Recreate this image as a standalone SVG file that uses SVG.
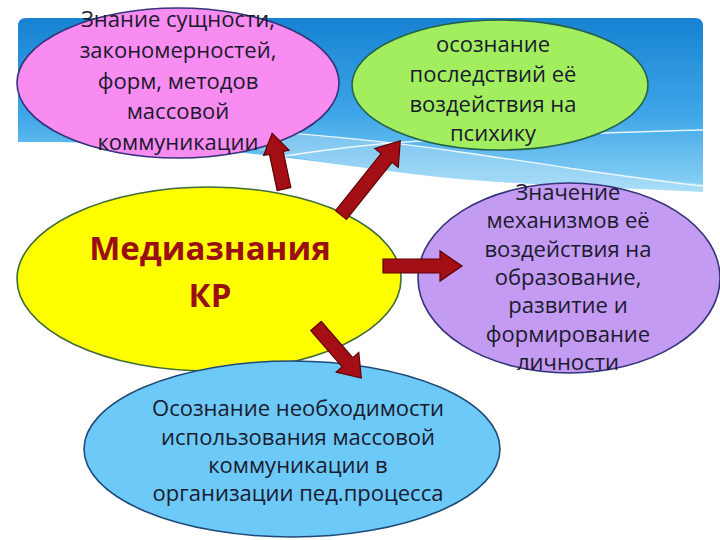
<svg xmlns="http://www.w3.org/2000/svg" width="720" height="540" viewBox="0 0 720 540">
  <defs>
    <linearGradient id="sky" x1="0" y1="18" x2="0" y2="192" gradientUnits="userSpaceOnUse">
      <stop offset="0" stop-color="#1682d2"/>
      <stop offset="0.55" stop-color="#3ea6e8"/>
      <stop offset="1" stop-color="#8ed3f5"/>
    </linearGradient>
  </defs>
  <style>
    .node ellipse { stroke-width: 1.6; }
    .lbl { font-family: "Open Sans", "Noto Sans", "DejaVu Sans", sans-serif; font-size: 22px; fill: #1a1a2e; text-anchor: middle; }
    .big { font-family: "Open Sans", "Noto Sans", "DejaVu Sans", sans-serif; font-size: 33px; font-weight: bold; fill: #9a0f12; text-anchor: middle; }
    .arrow { fill: #a30f14; stroke: #5e0000; stroke-width: 1.2; stroke-linejoin: miter; }
    .wave { fill: none; stroke: #ffffff; stroke-width: 1.3; opacity: 0.85; }
  </style>

  <rect width="720" height="540" fill="#ffffff"/>

  <!-- background sky band -->
  <g id="background">
    <path d="M18,26 Q18,18 26,18 H695 Q703,18 703,26 V192 C640,188 520,186 430,176 C330,165 200,140 18,142 Z" fill="url(#sky)"/>
    <path d="M180,126 C300,132 380,140 460,152 C560,166 640,178 703,184 V192 C640,188 520,186 430,176 C330,165 230,150 180,126 Z" fill="#ffffff" opacity="0.25"/>
    <path class="wave" d="M185,126 C290,132 380,140 460,152 C560,166 640,180 703,186"/>
    <path class="wave" d="M260,160 C320,150 370,144 420,141 C520,136 620,132 703,130"/>
  </g>

  <g id="node-pink" class="node">
    <ellipse cx="178" cy="83" rx="161" ry="75" fill="#f98cf0" stroke="#34347a"/>
    <text class="lbl" x="178" y="27" font-size="22.5">Знание сущности,</text>
    <text class="lbl" x="178" y="58" font-size="22.5">закономерностей,</text>
    <text class="lbl" x="178" y="89" font-size="22.5">форм, методов</text>
    <text class="lbl" x="178" y="119" font-size="22.5">массовой</text>
    <text class="lbl" x="178" y="150" font-size="22.5">коммуникации</text>
  </g>

  <g id="node-green" class="node">
    <ellipse cx="500" cy="85" rx="148" ry="65" fill="#a2ee5e" stroke="#23624a"/>
    <text class="lbl" x="493" y="52">осознание</text>
    <text class="lbl" x="493" y="82">последствий её</text>
    <text class="lbl" x="493" y="112">воздействия на</text>
    <text class="lbl" x="493" y="141">психику</text>
  </g>

  <g id="node-yellow" class="node">
    <ellipse cx="209" cy="279" rx="192" ry="92" fill="#ffff00" stroke="#3f6a3a"/>
    <text class="big" x="210" y="260">Медиазнания</text>
    <text class="big" x="210" y="307">КР</text>
  </g>

  <g id="node-purple" class="node">
    <ellipse cx="569" cy="278" rx="151" ry="95" fill="#c49bf2" stroke="#34347a"/>
    <text class="lbl" x="568" y="200" font-size="20.5">Значение</text>
    <text class="lbl" x="568" y="228" font-size="20.5">механизмов её</text>
    <text class="lbl" x="568" y="257" font-size="20.5">воздействия на</text>
    <text class="lbl" x="568" y="285" font-size="20.5">образование,</text>
    <text class="lbl" x="568" y="313" font-size="20.5">развитие и</text>
    <text class="lbl" x="568" y="342" font-size="20.5">формирование</text>
    <text class="lbl" x="568" y="370" font-size="20.5">личности</text>
  </g>

  <g id="node-blue" class="node">
    <ellipse cx="292" cy="449" rx="208" ry="88" fill="#6cc9f8" stroke="#1f4a78"/>
    <text class="lbl" x="298" y="416" font-size="21.5">Осознание необходимости</text>
    <text class="lbl" x="298" y="445" font-size="21.5">использования массовой</text>
    <text class="lbl" x="298" y="473" font-size="21.5">коммуникации в</text>
    <text class="lbl" x="298" y="501" font-size="21.5">организации пед.процесса</text>
  </g>

  <g id="connectors">
    <!-- yellow -> pink -->
    <polygon class="arrow" transform="translate(284,189) rotate(-102)" points="0,-7 37,-7 37,-13 57,0 37,13 37,7 0,7"/>
    <!-- yellow -> green -->
    <polygon class="arrow" transform="translate(341,215) rotate(-51.4)" points="0,-7 73,-7 73,-15 95,0 73,15 73,7 0,7"/>
    <!-- yellow -> purple -->
    <polygon class="arrow" transform="translate(383,266)" points="0,-7 57,-7 57,-15 79,0 57,15 57,7 0,7"/>
    <!-- yellow -> blue -->
    <polygon class="arrow" transform="translate(316,326) rotate(49)" points="0,-7 48,-7 48,-15 69,0 48,15 48,7 0,7"/>
  </g>
</svg>
